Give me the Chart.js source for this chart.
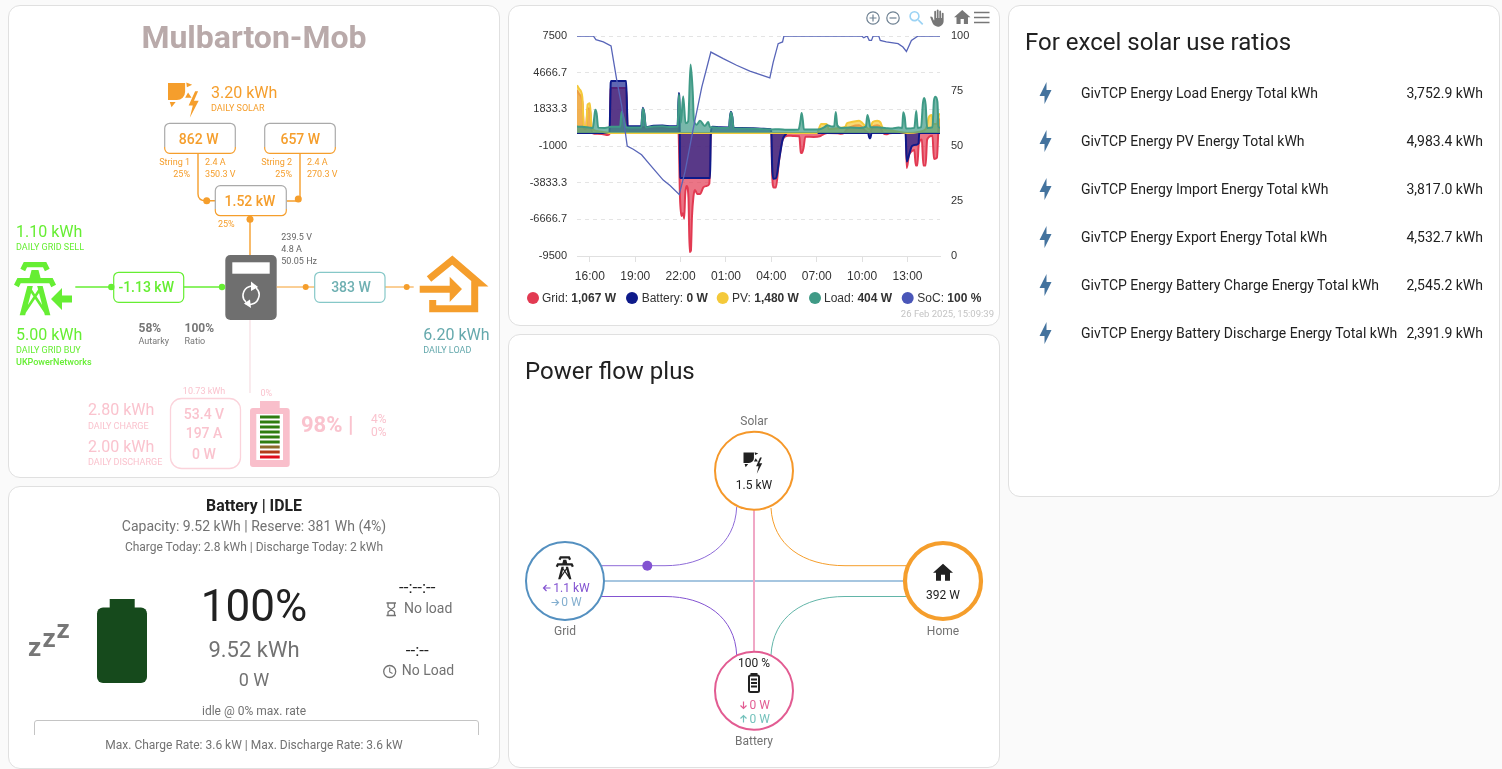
<!DOCTYPE html>
<html><head><meta charset="utf-8">
<script src="https://cdn.jsdelivr.net/npm/chart.js@4"></script>
<style>
html,body{margin:0;padding:0;width:1502px;height:769px;overflow:hidden;background:#fafafa;font-family:Roboto,sans-serif}
.card{position:absolute;background:#fff;border:1px solid #e0e0e0;border-radius:12px;box-sizing:border-box}
#art{position:absolute;left:0;top:0;z-index:2;pointer-events:none}
#txt{position:absolute;left:0;top:0;width:1502px;height:769px;z-index:3;pointer-events:none}
#txt span{position:absolute;white-space:nowrap;line-height:1}
canvas{position:absolute;z-index:1}
</style></head><body>
<div class="card" style="left:8px;top:5px;width:492px;height:473px"></div>
<div class="card" style="left:8px;top:486px;width:492px;height:283px"></div>
<div class="card" style="left:508px;top:5px;width:492px;height:321px"></div>
<div class="card" style="left:508px;top:334px;width:492px;height:434px"></div>
<div class="card" style="left:1008px;top:5px;width:492px;height:492px"></div>
<canvas id="c" width="490" height="285" style="left:510px;top:5px;width:490px;height:285px"></canvas>
<svg id="art" width="1502" height="769" viewBox="0 0 1502 769"></svg>
<div id="txt"></div>
<script>
// ---------- chart data (hours counted from midnight of the first day) ----------
const xTickHours = [16,19,22,25,28,31,34,37];
const leftTicks = [7500,4666.7,1833.3,-1000,-3833.3,-6666.7,-9500];
const rightTicks = [100,75,50,25,0];

const gridHours = [15.15,15.3,15.5,15.6,15.75,15.85,16,16.12,16.2,16.5,16.8,17.2,17.3,17.38,17.42,18.4,18.5,21.85,21.96,22.05,22.15,22.24,22.3,22.4,22.52,22.6,22.68,22.75,22.85,22.95,23.1,23.3,23.5,23.7,23.9,24,24.1,28,28.05,28.15,28.3,28.5,28.75,29.1,29.5,29.85,29.95,30.02,30.12,30.25,30.8,31.2,31.5,31.7,32.4,32.6,32.8,33,33.3,33.8,34,34.2,34.5,34.7,35,35.2,35.4,35.6,35.8,36,36.89,36.95,37.1,37.2,37.45,37.55,37.65,37.75,37.95,38.05,38.2,38.3,38.65,38.75,38.95,39.03,39.08,39.15];
const gridW     = [3300,3000,2400,400,300,1900,1900,200,-20,-60,-80,-150,-60,3400,3480,3480,450,450,-5000,-6400,-6200,-6600,-4800,-4100,-5000,-9200,-9100,-6500,-4900,-4400,-4700,-4700,-4200,-4100,-3900,-100,0,0,-3000,-4200,-4200,-2200,-500,-200,-230,-250,-1500,-1550,-1200,-280,-300,-250,-60,0,-20,-60,0,300,500,600,450,200,0,500,600,500,0,-100,-20,0,0,-2700,-1700,-1500,-1300,-2500,-2500,-800,-500,-2500,-2500,-500,-200,-2000,-1900,-100,1000,1067];

const batteryHours = [15.15,17.3,17.38,17.42,18.4,18.5,19.4,19.5,19.6,19.7,20.2,20.8,21.4,21.8,21.88,21.93,21.96,23.95,24,24.1,24.6,25.2,25.27,25.33,25.42,25.5,26,26.8,27.5,27.95,28,28.05,28.12,28.3,28.55,28.75,28.95,29.05,34.4,34.48,34.55,34.62,36.87,36.95,37.1,37.3,37.6,37.73,37.78,39.15];
const batteryW     = [0,0,3900,4020,4020,520,520,1950,1500,470,560,580,520,530,3100,2000,-3480,-3480,0,480,440,430,1300,1650,1250,420,390,370,340,300,0,-2500,-3530,-3500,-1800,-500,-100,0,0,-400,-400,0,0,-2200,-1700,-1000,-900,-800,0,0];

const pvHours = [15.15,15.3,15.5,15.6,15.75,15.85,16,16.12,16.3,16.8,17.5,31,31.3,31.65,31.8,32.5,32.9,33,33.3,33.8,34,34.2,34.5,34.7,35,35.2,35.4,35.8,36.4,37,37.8,38.2,38.3,38.4,38.6,38.7,38.95,39.05,39.15];
const pvW     = [3700,3400,2800,600,500,2200,2300,500,200,100,0,0,700,700,300,400,500,750,850,950,800,550,300,850,950,850,300,200,100,0,100,300,600,1200,1400,700,700,1400,1480];

const loadHours = [15.15,15.5,16,16.2,16.3,16.36,16.45,16.55,17,17.4,18,18.1,18.2,18.4,18.8,19.4,19.5,19.6,19.7,20.2,20.8,21.4,21.8,21.89,22.02,22.17,22.33,22.5,22.66,22.8,22.88,23.06,23.28,23.6,23.83,23.94,24.1,24.6,25.2,25.27,25.33,25.42,25.5,26,26.8,27.5,28,28.5,29,29.8,29.93,30,30.08,30.15,30.8,31.2,31.5,31.7,32,32.15,32.26,32.36,32.6,33.2,33.9,34.25,34.35,34.45,34.55,35,35.6,36,36.4,36.65,36.72,36.82,36.9,37.45,37.58,37.68,37.9,38.02,38.1,38.2,38.3,38.65,38.75,38.85,38.98,39.05,39.15];
const loadW     = [500,480,420,400,1300,1800,1500,420,400,480,480,1650,1300,450,430,420,1900,1500,430,500,520,470,480,3000,800,2850,750,900,5300,3200,1000,650,950,550,850,450,450,400,400,1200,1600,1200,380,350,330,300,280,300,260,280,1000,1550,1000,280,280,300,450,600,500,520,1620,600,400,420,400,500,1400,1000,450,450,380,350,420,400,1600,1200,350,400,1700,400,450,2300,2700,2200,400,450,2500,2800,2400,500,404];

const socHours = [15.15,16.23,16.4,16.89,17.4,17.77,18.1,18.47,18.87,19.42,19.97,20.41,20.85,21.3,21.91,22.29,22.84,23.4,24,24.82,25.7,26.58,27.9,28.12,28.45,28.74,28.83,33.96,34.11,34.33,34.47,34.62,34.73,35.1,35.2,35.6,36.38,36.7,36.93,37.26,37.7,39.18];
const socPct   = [100,100,98.3,97.3,95.5,80.3,68.5,50,48.5,46,41.5,38,34.5,32,28,38.2,58,76.8,92.7,89.7,86.7,84,81,88,96.5,97.3,100,100,99.2,100,98,98,100,100,98,97.3,96.5,95,93,98,100,100];

const zip = (xs,ys) => xs.map((x,i)=>({x,y:ys[i]}));
const hhmm = h => String(Math.round(h)%24).padStart(2,'0')+':00';
const area = (label,xs,ys,col,fillCol,order) => ({label,data:zip(xs,ys),borderColor:col,backgroundColor:fillCol,borderWidth:2,fill:'origin',pointRadius:0,cubicInterpolationMode:'monotone',order,yAxisID:'y'});

new Chart(document.getElementById('c'),{
 type:'line',
 data:{datasets:[
  area('Grid',gridHours,gridW,'#E23A52','rgba(226,58,82,.7)',5),
  area('Battery',batteryHours,batteryW,'#0E1A8A','rgba(14,26,138,.66)',4),
  area('PV',pvHours,pvW,'#F4C93A','rgba(244,201,58,.7)',3),
  area('Load',loadHours,loadW,'#3F9A86','rgba(63,154,134,.7)',2),
  {label:'SoC',data:zip(socHours,socPct),borderColor:'#5865B8',borderWidth:1.3,fill:false,pointRadius:0,tension:0,order:1,yAxisID:'y2'}
 ]},
 options:{
  responsive:false,animation:false,devicePixelRatio:1,
  layout:{padding:{top:31,left:0,right:0,bottom:0}},
  plugins:{legend:{display:false},tooltip:{enabled:false},title:{display:false}},
  scales:{
   x:{type:'linear',min:15.15,max:39.15,
    afterBuildTicks:s=>{s.ticks=xTickHours.map(v=>({value:v}))},
    afterFit:s=>{s.height=34},
    border:{color:'#e0e0e0'},
    grid:{drawOnChartArea:false,color:'#e0e0e0',tickLength:6},
    ticks:{callback:v=>hhmm(v),maxRotation:0,autoSkip:false,color:'#333',padding:7,font:{family:'"Liberation Sans"',size:12}}},
   y:{position:'left',min:-9500,max:7500,
    afterBuildTicks:s=>{s.ticks=leftTicks.map(v=>({value:v}))},
    afterFit:s=>{s.width=67},
    border:{display:false,dash:[4,4]},
    grid:{color:'#e4e4e4',drawTicks:false},
    ticks:{callback:v=>String(v),autoSkip:false,color:'#333',padding:10,font:{family:'"Liberation Sans"',size:11}}},
   y2:{position:'right',min:0,max:100,
    afterBuildTicks:s=>{s.ticks=rightTicks.map(v=>({value:v}))},
    afterFit:s=>{s.width=60},
    border:{display:false},
    grid:{display:false,drawTicks:false},
    ticks:{autoSkip:false,color:'#333',padding:11,font:{family:'"Liberation Sans"',size:11}}}
  }
 }
});

// ---------- dashboard text ----------
const T=document.getElementById('txt');
function t(x,y,s,o={}){const e=document.createElement('span');e.textContent=s;
 const a=o.a||'l';const tx=a==='c'?'-50%':a==='r'?'-100%':'0';
 e.style.cssText=`left:${x}px;top:${y}px;transform:translate(${tx},-50%);font-size:${o.s||12}px;color:${o.c||'#727272'};font-weight:${o.w||400};font-family:${o.f||'Roboto,sans-serif'}`;
 if(o.html)e.innerHTML=o.html;T.appendChild(e);}
const OR='#F59E2C',GR='#66EE33',TE='#65A9AD',PK='#FAC3CE',GY='#777';

t(254,37,'Mulbarton-Mob',{a:'c',s:32,w:700,c:'#B9AAAA'});
t(211,93,'3.20 kWh',{s:16,c:OR});t(211,107.5,'DAILY SOLAR',{s:9,c:OR});
t(198.7,139,'862 W',{a:'c',s:14,w:500,c:OR});t(300.3,139,'657 W',{a:'c',s:14,w:500,c:OR});
t(250,201,'1.52 kW',{a:'c',s:14,w:500,c:OR});
t(190,161.7,'String 1',{a:'r',s:9,c:OR});t(190,173.7,'25%',{a:'r',s:9,c:OR});
t(205,161.7,'2.4 A',{s:9,c:OR});t(205,173.7,'350.3 V',{s:9,c:OR});
t(292,161.7,'String 2',{a:'r',s:9,c:OR});t(292,173.7,'25%',{a:'r',s:9,c:OR});
t(307,161.7,'2.4 A',{s:9,c:OR});t(307,173.7,'270.3 V',{s:9,c:OR});
t(218,223.5,'25%',{s:9,c:OR});
t(281.3,236.7,'239.5 V',{s:9,c:'#666'});t(281.3,248.7,'4.8 A',{s:9,c:'#666'});t(281.3,260.7,'50.05 Hz',{s:9,c:'#666'});
t(16,232,'1.10 kWh',{s:16,c:GR});t(16,246.5,'DAILY GRID SELL',{s:9,c:GR});
t(16,335,'5.00 kWh',{s:16,c:GR});t(16,350,'DAILY GRID BUY',{s:9,c:GR});t(16,362,'UKPowerNetworks',{s:9,c:GR,w:500});
t(146.2,287,'-1.13 kW',{a:'c',s:14,w:500,c:GR});t(351,287,'383 W',{a:'c',s:14,w:500,c:'#6FB0B2'});
t(423.3,335.3,'6.20 kWh',{s:16,c:TE});t(423.3,350,'DAILY LOAD',{s:9,c:TE});
t(138.5,328,'58%',{s:12,w:700,c:GY});t(138.5,341,'Autarky',{s:9,c:GY});
t(184.5,328,'100%',{s:12,w:700,c:GY});t(184.5,341,'Ratio',{s:9,c:GY});
t(204,390.5,'10.73 kWh',{a:'c',s:9,c:PK});t(266.3,392.5,'0%',{a:'c',s:9,c:PK});
t(88,410,'2.80 kWh',{s:16,c:PK});t(88,425.5,'DAILY CHARGE',{s:9,c:PK});
t(88,447,'2.00 kWh',{s:16,c:PK});t(88,461.5,'DAILY DISCHARGE',{s:9,c:PK});
t(204,414,'53.4 V',{a:'c',s:14,w:500,c:PK});t(204,433,'197 A',{a:'c',s:14,w:500,c:PK});t(204,454,'0 W',{a:'c',s:14,w:500,c:PK});
t(301,425,'98% |',{s:22,w:700,c:PK});t(371,418.5,'4%',{s:12,c:PK});t(371,431.5,'0%',{s:12,c:PK});

t(254,506,'Battery | IDLE',{a:'c',s:15.8,w:700,c:'#212121'});
t(254,526,'Capacity: 9.52 kWh | Reserve: 381 Wh (4%)',{a:'c',s:14});
t(254,547,'Charge Today: 2.8 kWh | Discharge Today: 2 kWh',{a:'c',s:12});
t(254,606,'100%',{a:'c',s:44,c:'#212121'});t(254,650,'9.52 kWh',{a:'c',s:22});t(254,680,'0 W',{a:'c',s:18});
t(417.3,587,'--:--:--',{a:'c',s:17,c:'#212121'});t(404,608,'No load',{s:14});
t(417.3,649.5,'--:--',{a:'c',s:17,c:'#212121'});t(401.7,670,'No Load',{s:14});
t(254,710.5,'idle @ 0% max. rate',{a:'c',s:12});
t(254,745,'Max. Charge Rate: 3.6 kW | Max. Discharge Rate: 3.6 kW',{a:'c',s:12});
t(28,646.7,'z',{s:26,w:700,c:GY});t(42.5,637.7,'z',{s:26,w:700,c:GY});t(56.5,629,'z',{s:26,w:700,c:GY});

const LS='"Liberation Sans",Arial,sans-serif';
[[542,'Grid: ','1,067 W'],[641.7,'Battery: ','0 W'],[732,'PV: ','1,480 W'],[824,'Load: ','404 W'],[917.3,'SoC: ','100 %']].forEach(([x,a,b])=>{
 t(x,298,'',{s:12,c:'#333',f:LS,html:`${a}<b>${b}</b>`});});
t(994,314,'26 Feb 2025, 15:09:39',{a:'r',s:9.5,c:'#c4c4c4'});

t(525,371,'Power flow plus',{s:24,c:'#212121'});
t(754,420.5,'Solar',{a:'c',s:12});t(754,484.5,'1.5 kW',{a:'c',s:12,c:'#212121'});
t(565,630.5,'Grid',{a:'c',s:12});t(553.3,587.5,'1.1 kW',{s:12,c:'#8353D1'});t(561.3,601.5,'0 W',{s:12,c:'#84AFCF'});
t(943,630.5,'Home',{a:'c',s:12});t(943,594.7,'392 W',{a:'c',s:12,c:'#212121'});
t(754,662.5,'100 %',{a:'c',s:12,c:'#212121'});t(749.5,704.5,'0 W',{s:12,c:'#E25C92'});t(749.5,718.5,'0 W',{s:12,c:'#74C2BC'});t(754,741,'Battery',{a:'c',s:12});

t(1025,42,'For excel solar use ratios',{s:24,c:'#212121'});
const rows=[['GivTCP Energy Load Energy Total kWh','3,752.9 kWh'],['GivTCP Energy PV Energy Total kWh','4,983.4 kWh'],['GivTCP Energy Import Energy Total kWh','3,817.0 kWh'],['GivTCP Energy Export Energy Total kWh','4,532.7 kWh'],['GivTCP Energy Battery Charge Energy Total kWh','2,545.2 kWh'],['GivTCP Energy Battery Discharge Energy Total kWh','2,391.9 kWh']];
rows.forEach((r,i)=>{t(1081,93+48*i,r[0],{s:14,c:'#212121'});t(1483,93+48*i,r[1],{a:'r',s:14,c:'#212121'});});

// ---------- dashboard line art ----------
const P={home:'M10,20V14H14V20H19V12H22L12,3L2,12H5V20H10Z',
 bolt:'M11 15H6L13 1V9H18L11 23V15Z',
 mag:'M9.5,3A6.5,6.5 0 0,1 16,9.5C16,11.11 15.41,12.59 14.44,13.73L14.71,14H15.5L20.5,19L19,20.5L14,15.5V14.71L13.73,14.44C12.59,15.41 11.11,16 9.5,16A6.5,6.5 0 0,1 3,9.5A6.5,6.5 0 0,1 9.5,3M9.5,5C7,5 5,7 5,9.5C5,12 7,14 9.5,14C12,14 14,12 14,9.5C14,7 12,5 9.5,5Z',
 hand:'M13 24C9.74 24 6.81 22 5.6 19L2.57 11.37C2.26 10.58 3 9.79 3.81 10.05L4.6 10.31C5.16 10.5 5.62 10.92 5.84 11.47L7.25 15H8V3.25C8 2.56 8.56 2 9.25 2S10.5 2.56 10.5 3.25V12H11.5V1.25C11.5 .56 12.06 0 12.75 0S14 .56 14 1.25V12H15V2.75C15 2.06 15.56 1.5 16.25 1.5C16.94 1.5 17.5 2.06 17.5 2.75V12H18.5V5.75C18.5 5.06 19.06 4.5 19.75 4.5S21 5.06 21 5.75V16C21 20.42 17.42 24 13 24Z',
 tower:'M8.28,5.45L6.5,4.55L7.76,2H16.23L17.5,4.55L15.72,5.44L15,4H9L8.28,5.45M18.62,8H14.09L13.3,5H10.7L9.91,8H5.38L4.1,10.55L5.89,11.44L6.62,10H17.38L18.1,11.45L19.89,10.56L18.62,8M17.77,22H15.7L15.46,21.1L12,15.9L8.53,21.1L8.3,22H6.23L9.12,11H11.19L10.83,12.35L12,14.1L13.16,12.35L12.81,11H14.88L17.77,22M11.4,15L10.5,13.65L9.32,18.13L11.4,15M14.68,18.12L13.5,13.64L12.6,15L14.68,18.12Z',
 solar:'M0 0H14.5V7.5A7 7 0 0 1 7.5 14.5H0ZM15.5 -0.5L20.5 1.5L16 3.5ZM17 8L20 12.5L14.5 12.5ZM1.5 16L6.5 16L3 20.5ZM23 7L17.5 19H21L18.5 29.5L26 15H22L25.5 7Z'};
const icon=(d,x,y,s,c)=>`<path d="${d}" fill="${c}" transform="translate(${x} ${y}) scale(${s})"/>`;
const box=(x,y,w,h,stroke,sw=1.2)=>`<rect x="${x}" y="${y}" width="${w}" height="${h}" rx="5" fill="#fff" stroke="${stroke}" stroke-width="${sw}"/>`;
const dot=(x,y,r,c)=>`<circle cx="${x}" cy="${y}" r="${r}" fill="${c}"/>`;
const ln=(d,c,w)=>`<path d="${d}" fill="none" stroke="${c}" stroke-width="${w}"/>`;
const arr=(x,y,rot,c)=>`<path d="M-3.5,0H3.5M.5,-3L3.5,0L.5,3" fill="none" stroke="${c}" stroke-width="1.2" transform="translate(${x} ${y}) rotate(${rot})"/>`;
let s=`<defs><linearGradient id="go" x1="0" y1="0" x2="0" y2="1"><stop offset=".78" stop-color="#aaa"/><stop offset=".78" stop-color="${OR}"/></linearGradient></defs>`;
// solar flow
s+=icon(P.solar,168,83,1.18,OR);
s+=ln('M198,153V194Q198,200.7 206,200.7H216',OR,1.4)+ln('M300,153V199M287,201H298',OR,1.4)+ln('M250,216V255',OR,1.4);
s+=box(164.7,123.3,70.6,30,'url(#go)')+box(264.7,123.3,70.6,30,'url(#go)')+box(215.3,185.7,71,30,'url(#go)');
s+=dot(206.7,200.7,3.5,OR)+dot(298.3,199,3.5,OR)+dot(250,219.3,3.5,OR);
// inverter
s+=`<rect x="225.3" y="255" width="51.4" height="65" rx="5" fill="#6F6F6F"/><rect x="232.3" y="262.3" width="37.4" height="11.4" fill="#fff"/>`;
s+=ln('M257,287.5A9,9 0 0 0 243.5,292.5 9,9 0 0 0 246,302',' #fff',1.6)+ln('M245,303A9,9 0 0 0 258.5,298 9,9 0 0 0 256,288','#fff',1.6);
s+=`<path d="M251,281.5L258,287L251,291ZM250,299.5L244,303.5L251,308Z" fill="#fff"/>`;
// grid
s+=icon(P.tower,3.1,256.7,2.66,GR)+`<path d="M72,295.5V302.5H62V310L51,299L62,288V295.5Z" fill="${GR}" stroke="#fff" stroke-width="1.5" paint-order="stroke"/>`;
s+=ln('M75.3,287H222',GR,1.4)+box(113.7,272.3,70,30,GR)+dot(111.3,287,3.2,GR)+dot(222,287,3.2,GR);
// load
s+=ln('M276.7,287H413.7',OR,1)+box(314.7,272.3,70.3,30,'#86C8C8')+dot(305.7,287,3,OR)+dot(406.7,287,3,OR);
s+=`<path d="M429,279L452.3,260L479,283H474.7V308.8H432.7V300" fill="none" stroke="${OR}" stroke-width="7"/>`;
s+=`<path d="M419.7,285.7H449.7V276.7L462,289L449.7,302V292.7H419.7Z" fill="${OR}"/>`;
// battery
s+=ln('M250,320V393','#F6DDE2',1.2);
s+=`<rect x="170.5" y="398.5" width="70" height="70" rx="11" fill="#fff" stroke="#FBD3DB" stroke-width="1.3"/>`;
s+=`<rect x="260" y="401" width="19.7" height="9" fill="#F9BFCB"/><rect x="250" y="408" width="39.7" height="59" rx="3" fill="#F9BFCB"/><rect x="256.3" y="414" width="26.7" height="46" fill="#fff"/>`;
['#2F7D10','#2F7D10','#2F7D10','#2F7D10','#2F7D10','#2F7D10','#8B6A2A','#B33A1A','#E00E1E'].forEach((c,i)=>{s+=`<rect x="260" y="${415.5+5*i}" width="19.7" height="3" fill="${c}"/>`;});
// battery card
s+=`<rect x="109.7" y="599" width="25" height="12" fill="#164A1C"/><rect x="97" y="607.5" width="50" height="75.5" rx="6" fill="#164A1C"/>`;
s+=`<path d="M386.5,603H396M386.5,615.5H396M388,603.5V607L394.5,612V615M394.5,603.5V607L388,612V615" fill="none" stroke="#727272" stroke-width="1.3"/>`;
s+=`<circle cx="389.7" cy="671.5" r="6" fill="none" stroke="#727272" stroke-width="1.3"/>`+ln('M389.7,667.5V672L392.5,673.5','#727272',1.1);
s+=`<path d="M34.5,735V723Q34.5,720.5 37,720.5H476Q478.5,720.5 478.5,723V735" fill="none" stroke="#C4C4C4" stroke-width="1"/>`;
// power flow
s+=ln('M604,581H904','#A6C6E0',2)+ln('M754,510V651','#F0A8C6',2);
s+=ln('M602,565.7H665C705,565.7 735,545 736.7,507','#8E6BD8',1)+ln('M771,508C773,545 803,565.7 845,565.7H906',OR,1);
s+=ln('M601,596.5H665C705,596.5 735,617 736.7,655','#8353D1',1)+ln('M771,655C773,617 803,596.5 845,596.5H906','#62B5A8',1);
s+=dot(647.3,565.7,5,'#8353D1');
const ring=(x,y,r,c,w)=>`<circle cx="${x}" cy="${y}" r="${r}" fill="#fff" stroke="${c}" stroke-width="${w}"/>`;
s+=ring(754,470.7,39,'#F5982A',2)+ring(565,581,39,'#5490C0',2)+ring(943,581,38,OR,4.2)+ring(754,690.7,39,'#E25C92',2);
s+=icon(P.solar,743.5,452.5,.72,'#212121')+icon(P.tower,551,554,1.15,'#212121')+icon(P.home,931,560.7,1,'#212121');
s+=`<rect x="750.5" y="673" width="7" height="3" fill="#212121"/><rect x="749" y="675.5" width="10" height="16.5" rx="1.5" fill="none" stroke="#212121" stroke-width="2"/><path d="M751,679.5H757M751,683H757M751,686.5H757" stroke="#212121" stroke-width="2"/>`;
s+=arr(547,588,180,'#8353D1')+arr(555,602.5,0,'#84AFCF')+arr(743.5,705,90,'#E25C92')+arr(743.5,719,-90,'#74C2BC');
// toolbar
const tb='#6E8192';
s+=`<circle cx="873" cy="18" r="6.2" fill="none" stroke="${tb}" stroke-width="1.2"/>`+ln('M869.5,18H876.5M873,14.5V21.5',tb,1.2);
s+=`<circle cx="893" cy="18" r="6.2" fill="none" stroke="${tb}" stroke-width="1.2"/>`+ln('M889.5,18H896.5',tb,1.2);
s+=icon(P.mag,906.9,8.6,.8,'#9CD3F4')+icon(P.hand,928.5,9.4,.72,'#777')+icon(P.home,952.4,7.5,.82,'#777');
s+=ln('M974,12.5H989.5M974,17.5H989.5M974,22.5H989.5','#777',1.6);
// legend dots
[[533,'#E23A52'],[632,'#0E1A8A'],[722.7,'#F4C93A'],[815,'#3F9A86'],[907.7,'#4A56B8']].forEach(([x,c])=>{s+=dot(x,298,6,c);});
// list bolts
rows.forEach((r,i)=>{s+=icon(P.bolt,1033.5,81+48*i,1,'#44739E');});
document.getElementById('art').innerHTML=s;
</script>
</body></html>
